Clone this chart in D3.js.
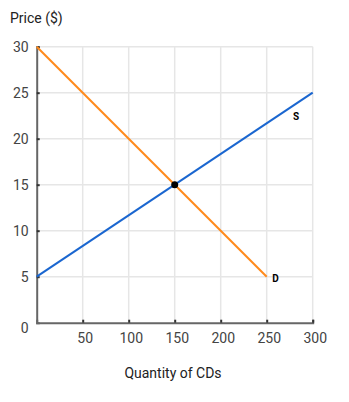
<!DOCTYPE html>
<html>
<head>
<meta charset="utf-8">
<script src="https://cdn.jsdelivr.net/npm/d3@7"></script>
<style>
  body { margin: 0; background: #fff; }
  svg text { font-family: Roboto, "Noto Sans", sans-serif; }
</style>
</head>
<body>
<svg id="root"></svg>
<script>
// data
const xTicks = [50, 100, 150, 200, 250, 300];
const yTicks = [5, 10, 15, 20, 25, 30];
const supplyQty = [0, 300];
const supplyPrice = [5, 25];
const demandQty = [0, 250];
const demandPrice = [30, 5];
const equilibrium = [150, 15];
const curveLabels = ['S', 'D'];
const labelPos = [[278.5, 22.4], [256, 4.8]];

const W = 349, H = 402;
const margin = { top: 46.7, left: 36.7, right: 36.3, bottom: 79.3 };
const width = W - margin.left - margin.right;
const height = H - margin.top - margin.bottom;

const xScale = d3.scaleLinear().domain([0, 300]).range([0, width]);
const yScale = d3.scaleLinear().domain([0, 30]).range([height, 0]);

const svg = d3.select('#root').attr('width', W).attr('height', H);
const g = svg.append('g').attr('transform', `translate(${margin.left},${margin.top})`);

// grid
g.append('g').selectAll('line').data(xTicks).join('line')
    .attr('x1', d => xScale(d)).attr('x2', d => xScale(d))
    .attr('y1', 0).attr('y2', height)
    .attr('stroke', '#e6e6e6').attr('stroke-width', 1.5);
g.append('g').selectAll('line').data(yTicks).join('line')
    .attr('x1', 0).attr('x2', width)
    .attr('y1', d => yScale(d)).attr('y2', d => yScale(d))
    .attr('stroke', '#e6e6e6').attr('stroke-width', 1.5);

// axes (ticks pointing inward)
const axisX = d3.axisBottom(xScale).tickValues(xTicks).tickSize(-3).tickPadding(10);
const axisY = d3.axisLeft(yScale).tickValues(yTicks).tickSize(-3).tickPadding(8);

const gx = g.append('g').attr('transform', `translate(0,${height})`).call(axisX);
const gy = g.append('g').call(axisY);
[gx, gy].forEach(a => {
    a.select('.domain').attr('stroke', '#666').attr('stroke-width', 2);
    a.selectAll('.tick line').attr('stroke', '#333').attr('stroke-width', 2);
    a.selectAll('.tick text').attr('fill', '#444').attr('font-size', 14)
        .attr('font-family', 'Roboto, sans-serif');
});
gx.selectAll('.tick text').attr('dx', 2);

// zero label sits a little under the corner
g.append('text')
    .attr('x', -8).attr('y', yScale(0) + 10)
    .attr('text-anchor', 'end')
    .attr('fill', '#444').attr('font-size', 14)
    .text('0');

// lines
const line = d3.line().x(d => xScale(d[0])).y(d => yScale(d[1]));
g.append('path')
    .datum(supplyQty.map((q, i) => [q, supplyPrice[i]]))
    .attr('d', line).attr('fill', 'none')
    .attr('stroke', '#1a66d0').attr('stroke-width', 2);
g.append('path')
    .datum(demandQty.map((q, i) => [q, demandPrice[i]]))
    .attr('d', line).attr('fill', 'none')
    .attr('stroke', '#ff8a1c').attr('stroke-width', 2);

g.append('circle')
    .attr('cx', xScale(equilibrium[0])).attr('cy', yScale(equilibrium[1]))
    .attr('r', 3.5).attr('fill', '#000');

g.selectAll('.curve-label').data(curveLabels).join('text')
    .attr('class', 'curve-label')
    .attr('x', (d, i) => xScale(labelPos[i][0]))
    .attr('y', (d, i) => yScale(labelPos[i][1]))
    .attr('dy', '0.35em')
    .attr('font-size', 10).attr('font-weight', 'bold').attr('fill', '#000')
    .text(d => d);

// titles
svg.append('text')
    .attr('x', 10).attr('y', 23)
    .attr('font-size', 14).attr('fill', '#222')
    .text('Price ($)');
svg.append('text')
    .attr('x', 173).attr('y', 378)
    .attr('text-anchor', 'middle')
    .attr('font-size', 14).attr('fill', '#222')
    .text('Quantity of CDs');
</script>
</body>
</html>
